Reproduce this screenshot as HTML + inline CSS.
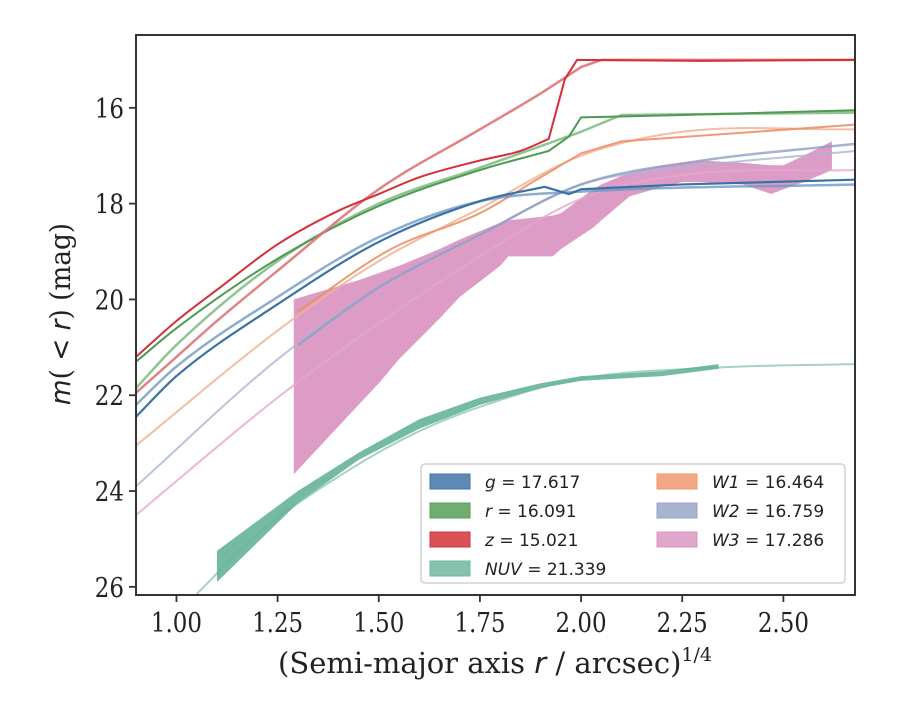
<!DOCTYPE html>
<html><head><meta charset="utf-8"><style>
body{margin:0;background:#fff}
svg text{font-family:"DejaVu Serif","Liberation Serif",serif;fill:#222}
</style></head><body>
<svg width="900" height="700" xmlns="http://www.w3.org/2000/svg">
<g id="plot"></g>
<g id="axes"></g>
</svg>
<script>
const xTicks=[1.00,1.25,1.50,1.75,2.00,2.25,2.50];
const yTicks=[16,18,20,22,24,26];
const zObsX=[0.9,1.0,1.1,1.25,1.4,1.5,1.6,1.75,1.85,1.92,1.96,1.99,2.3,2.68];
const zObsM=[21.2,20.45,19.8,18.85,18.15,17.8,17.45,17.1,16.9,16.65,15.4,15.0,15.02,15.0];
const zModX=[0.9,1.0,1.1,1.25,1.5,1.75,1.9,2.0,2.05,2.68];
const zModM=[21.95,21.2,20.45,19.4,17.7,16.45,15.7,15.15,15.0,15.0];
const rObsX=[0.9,1.0,1.25,1.5,1.75,1.92,1.97,2.0,2.25,2.68];
const rObsM=[21.3,20.6,19.15,18.05,17.3,16.9,16.6,16.2,16.15,16.05];
const rModX=[0.9,1.0,1.25,1.5,1.75,1.9,2.0,2.1,2.68];
const rModM=[21.85,20.95,19.2,18.0,17.25,16.8,16.5,16.15,16.1];
const gObsX=[0.9,1.0,1.25,1.5,1.75,1.91,1.97,2.0,2.25,2.68];
const gObsM=[22.45,21.6,20.1,18.8,17.95,17.65,17.8,17.7,17.6,17.5];
const gModX=[0.9,1.0,1.25,1.5,1.75,2.0,2.68];
const gModM=[22.2,21.4,19.95,18.7,17.95,17.75,17.6];
const w1ModX=[0.9,1.25,1.5,1.75,2.0,2.25,2.68];
const w1ModM=[23.05,20.65,19.2,18.1,17.0,16.5,16.45];
const w1ObsX=[1.3,1.53,1.75,1.9,2.0,2.1,2.68];
const w1ObsM=[20.25,18.95,18.2,17.45,16.95,16.7,16.35];
const w2ModX=[0.9,1.25,1.5,1.75,2.0,2.25,2.68];
const w2ModM=[23.9,21.25,19.75,18.65,17.6,17.25,16.9];
const w2ObsX=[1.3,1.5,1.75,2.0,2.3,2.68];
const w2ObsM=[20.95,19.75,18.65,17.6,17.1,16.75];
const w3ModX=[0.9,1.25,1.5,1.75,2.0,2.25,2.68];
const w3ModM=[24.5,22.05,20.5,19.1,17.9,17.4,17.3];
const w3BandX=[1.29,1.45,1.5,1.55,1.65,1.7,1.8,1.82,1.93,1.95,2.03,2.05,2.12,2.2,2.25,2.3,2.4,2.47,2.5,2.55,2.62];
const w3Hi=[20.0,19.6,19.45,19.3,18.95,18.75,18.4,18.35,18.25,18.2,17.7,17.6,17.35,17.2,17.15,17.1,17.15,17.2,17.2,17.0,16.7];
const w3Lo=[23.65,22.2,21.75,21.25,20.4,19.95,19.3,19.1,19.1,18.95,18.5,18.35,17.85,17.65,17.55,17.55,17.6,17.8,17.7,17.55,17.3];
const nuvBandX=[1.1,1.3,1.45,1.6,1.75,1.9,2.0,2.2,2.34];
const nuvHi=[25.25,24.0,23.2,22.5,22.05,21.75,21.6,21.5,21.35];
const nuvLo=[25.9,24.25,23.35,22.7,22.2,21.85,21.7,21.6,21.45];
const nuvModX=[1.05,1.2,1.4,1.6,1.8,2.0,2.34,2.68];
const nuvModM=[26.15,24.9,23.7,22.75,22.1,21.65,21.42,21.35];
const legendLabels=[["g","= 17.617","#3f76a8"],["r","= 16.091","#55a058"],["z","= 15.021","#d1343b"],["NUV","= 21.339","#70b8a0"],["W1","= 16.464","#ee9a70"],["W2","= 16.759","#98a6c8"],["W3","= 17.286","#dc96c3"]];

const X0=136,X1=855,Y0=35,Y1=595;
const xmin=0.9,xmax=2.677,ymin=14.48,ymax=26.17;
const px=x=>X0+(x-xmin)/(xmax-xmin)*(X1-X0);
const py=m=>Y0+(m-ymin)/(ymax-ymin)*(Y1-Y0);
const NS="http://www.w3.org/2000/svg";
const plot=document.getElementById('plot'),axes=document.getElementById('axes');
function mk(t,a,p){const e=document.createElementNS(NS,t);for(const k in a)e.setAttribute(k,a[k]);p.appendChild(e);return e;}
function mono(xs,ys,k){const P=xs.map((x,i)=>[px(x),py(ys[i])]);const n=Math.min(k,P.length);
let s='M'+P[0][0]+','+P[0][1];
if(n>=3){const d=[],m=[];for(let i=0;i<n-1;i++)d.push((P[i+1][1]-P[i][1])/(P[i+1][0]-P[i][0]));
m[0]=d[0];m[n-1]=d[n-2];for(let i=1;i<n-1;i++)m[i]=(d[i-1]*d[i]<=0)?0:(d[i-1]+d[i])/2;
for(let i=0;i<n-1;i++){const h=(P[i+1][0]-P[i][0])/3;s+=' C'+(P[i][0]+h)+','+(P[i][1]+m[i]*h)+' '+(P[i+1][0]-h)+','+(P[i+1][1]-m[i+1]*h)+' '+P[i+1][0]+','+P[i+1][1];}}
for(let i=Math.max(n,1);i<P.length;i++)s+=' L'+P[i][0]+','+P[i][1];return s;}
const cp=mk('clipPath',{id:'cp'},plot);mk('rect',{x:X0,y:Y0,width:X1-X0,height:Y1-Y0},cp);
const g=mk('g',{'clip-path':'url(#cp)'},plot);
function line(xs,ms,col,w,op,name,k){const e=mk('path',{d:mono(xs,ms,k===undefined?xs.length:k),fill:'none',stroke:col,'stroke-width':w,'stroke-opacity':op,'stroke-linejoin':'round'},g);

}
function band(xs,hi,lo,col,op,name){const pts=xs.map((x,i)=>px(x)+','+py(hi[i])).concat(xs.map((x,i)=>px(x)+','+py(lo[i])).reverse());const e=mk('polygon',{points:pts.join(' '),fill:col,'fill-opacity':op},g);

}
band(w3BandX,w3Hi,w3Lo,'#d383b8',0.8,'w3-band');
line(w3ModX,w3ModM,'#e3a6cf',2,0.8,'w3-model-line');
line(w2ModX,w2ModM,'#aab5d3',2,0.8,'w2-model-line');
line(w2ObsX,w2ObsM,'#8e9fc6',2.5,0.8,'w2-line');
line(w1ModX,w1ModM,'#f2b295',2,0.85,'w1-model-line');
line(w1ObsX,w1ObsM,'#ec9066',2,0.9,'w1-line',5);
line(nuvModX,nuvModM,'#8ec7b3',2,0.8,'nuv-model-line');
band(nuvBandX,nuvHi,nuvLo,'#66b39a',0.9,'nuv-band');
line(gModX,gModM,'#6f98c0',2.5,0.8,'g-model-line');
line(gObsX,gObsM,'#3a72a5',2.2,1,'g-line',6);
line(rModX,rModM,'#7cba7c',2.5,0.85,'r-model-line',7);
line(rObsX,rObsM,'#4f9a52',2,1,'r-line',6);
line(zModX,zModM,'#de7478',2.5,0.9,'z-model-line',8);
line(zObsX,zObsM,'#d3303a',2,1,'z-line',10);
const fr=mk('rect',{x:X0,y:Y0,width:X1-X0,height:Y1-Y0,fill:'none',stroke:'#333',"stroke-width":2},axes);


xTicks.forEach(t=>{const x=px(t);mk('line',{x1:x,x2:x,y1:Y1,y2:Y1+7,stroke:'#333','stroke-width':1.8},axes);
const tx=mk('text',{x:0,y:0,'text-anchor':'middle','font-size':27,transform:'translate('+x+','+(Y1+37)+') scale(0.85,1)'},axes);tx.textContent=t.toFixed(2);

});
yTicks.forEach(t=>{const y=py(t);mk('line',{x1:X0-7,x2:X0,y1:y,y2:y,stroke:'#333','stroke-width':1.8},axes);
const tx=mk('text',{x:0,y:0,'text-anchor':'end','font-size':27,transform:'translate('+(X0-12)+','+(y+10)+') scale(0.85,1)'},axes);tx.textContent=t;

});
const xl=mk('text',{x:0,y:0,'text-anchor':'middle','font-size':29,transform:'translate(495,673) scale(1.0,1)'},axes);
xl.innerHTML='(Semi-major axis <tspan font-style="italic" style="font-family:\'DejaVu Sans\',sans-serif">r</tspan> / arcsec)<tspan dy="-12" font-size="19">1/4</tspan>';


const yl=mk('text',{x:0,y:0,'text-anchor':'middle','font-size':28,transform:'translate(70,314) rotate(-90) scale(0.94,1)'},axes);
yl.innerHTML='<tspan font-style="italic" style="font-family:\'DejaVu Sans\',sans-serif">m</tspan>(<tspan style="font-family:\'DejaVu Sans\',sans-serif"> &lt; </tspan><tspan font-style="italic" style="font-family:\'DejaVu Sans\',sans-serif">r</tspan>) (mag)';


const lg=mk('g',{},axes);


mk('rect',{x:421,y:464,width:424,height:119,rx:4,fill:'#fff','fill-opacity':0.85,stroke:'#d0d0d0','stroke-width':1.5},lg);
legendLabels.forEach((L,i)=>{const col=i<4?0:1,row=i<4?i:i-4;const x=col?657:430,y=474+row*29;
mk('rect',{x:x,y:y,width:40,height:15,fill:L[2],'fill-opacity':0.85,stroke:L[2]},lg);
const t=mk('text',{x:x+55,y:y+14,'font-size':17,style:'font-family:"DejaVu Sans",sans-serif'},lg);
t.innerHTML='<tspan font-style="italic">'+L[0]+'</tspan> '+L[1];

});
</script>
</body></html>
